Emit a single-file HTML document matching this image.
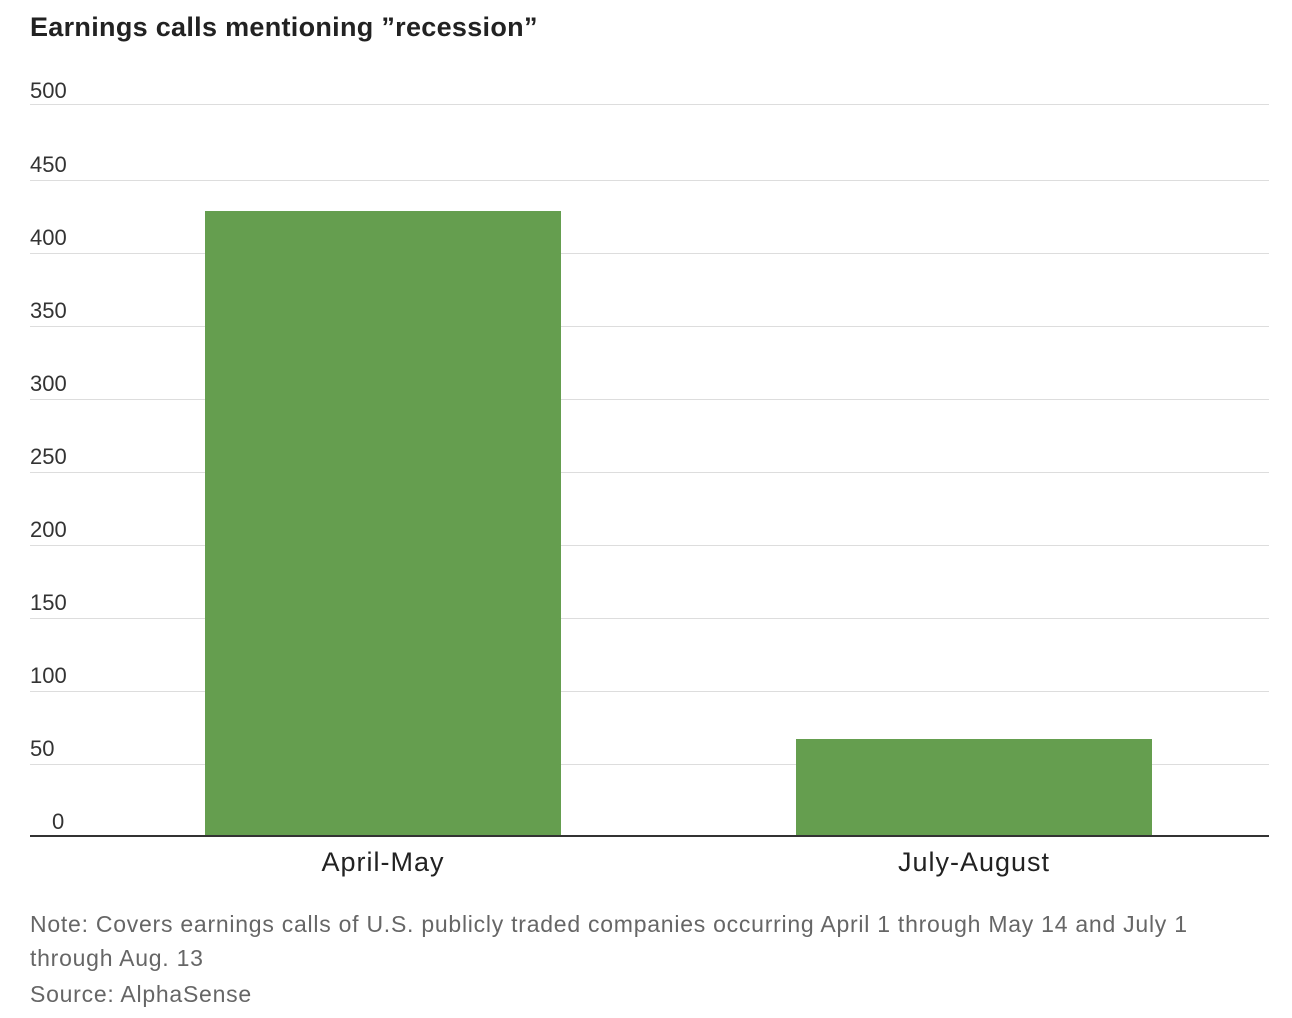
<!DOCTYPE html>
<html><head><meta charset="utf-8"><style>
body{margin:0;background:#fff;width:1292px;height:1018px;overflow:hidden;font-family:"Liberation Sans",sans-serif;position:relative}
.t{position:absolute;left:30px;top:12px;font-size:27px;font-weight:bold;color:#222;letter-spacing:0.3px}
.g{position:absolute;left:30px;width:1239px;height:1px;background:#ddd}
.l{position:absolute;left:30px;font-size:22px;color:#333}
.bar{position:absolute;background:#659e4f}
.x{position:absolute;top:847px;font-size:27px;color:#222;text-align:center;width:356px;letter-spacing:1px}
.n{position:absolute;left:30px;font-size:23px;color:#666;line-height:34px;letter-spacing:0.75px}
</style></head><body>
<div class="t">Earnings calls mentioning ”recession”</div>
<div class="g" style="top:104px"></div><div class="l" style="top:78px">500</div>
<div class="g" style="top:180px"></div><div class="l" style="top:152px">450</div>
<div class="g" style="top:253px"></div><div class="l" style="top:225px">400</div>
<div class="g" style="top:326px"></div><div class="l" style="top:298px">350</div>
<div class="g" style="top:399px"></div><div class="l" style="top:371px">300</div>
<div class="g" style="top:472px"></div><div class="l" style="top:444px">250</div>
<div class="g" style="top:545px"></div><div class="l" style="top:517px">200</div>
<div class="g" style="top:618px"></div><div class="l" style="top:590px">150</div>
<div class="g" style="top:691px"></div><div class="l" style="top:663px">100</div>
<div class="g" style="top:764px"></div><div class="l" style="top:736px">50</div>
<div class="l" style="top:809px;left:52px">0</div>
<div class="bar" style="left:205px;top:211px;width:356px;height:625px"></div>
<div class="bar" style="left:796px;top:739px;width:356px;height:97px"></div>
<div style="position:absolute;left:30px;top:835px;width:1239px;height:2px;background:#333"></div>
<div class="x" style="left:205px">April-May</div>
<div class="x" style="left:796px">July-August</div>
<div class="n" style="top:907px">Note: Covers earnings calls of U.S. publicly traded companies occurring April 1 through May 14 and July 1<br>through Aug. 13</div>
<div class="n" style="top:977px">Source: AlphaSense</div>
</body></html>
